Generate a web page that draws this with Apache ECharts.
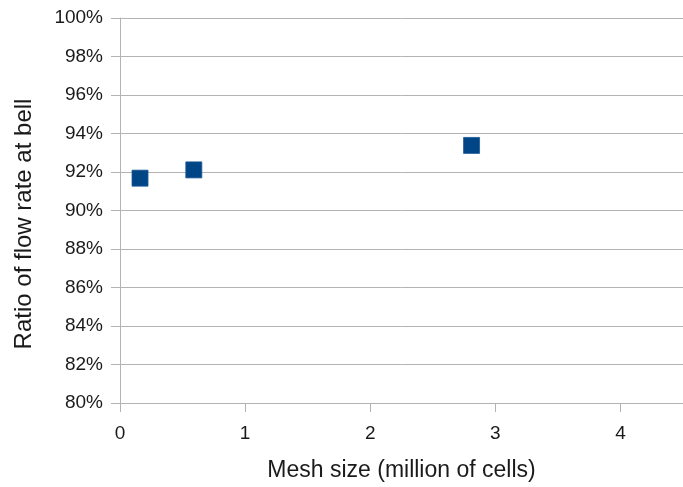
<!DOCTYPE html>
<html>
<head>
<meta charset="utf-8">
<script src="https://cdn.jsdelivr.net/npm/echarts@6/dist/echarts.min.js"></script>
<style>
html,body{margin:0;padding:0;background:#fff;}
#chart{width:683px;height:487px;}
</style>
</head>
<body>
<div id="chart"></div>
<script>
// Data
const meshSize = [0.16, 0.59, 2.81];          // million of cells
const flowRatio = [91.68, 92.11, 93.38];      // percent
const xTitle = 'Mesh size (million of cells)';
const yTitle = 'Ratio of flow rate at bell';

const points = meshSize.map((x, i) => [x, flowRatio[i]]);

const chart = echarts.init(document.getElementById('chart'), null, {renderer: 'canvas'});
const grey = '#b3b3b3';
const font = '"Liberation Sans", Arial, sans-serif';
chart.setOption({
  animation: false,
  backgroundColor: '#fff',
  grid: {left: 120, right: -3, top: 18, bottom: 83, containLabel: false},
  xAxis: {
    type: 'value', min: 0, max: 4.5, interval: 1,
    name: xTitle, nameLocation: 'middle', nameGap: 56,
    nameTextStyle: {fontFamily: font, fontSize: 23, color: '#1a1a1a'},
    axisLine: {show: true, lineStyle: {color: grey, width: 1}},
    axisTick: {show: true, length: 9, lineStyle: {color: grey}},
    splitLine: {show: false},
    axisLabel: {
      fontFamily: font, fontSize: 19, color: '#1a1a1a', margin: 21,
      showMaxLabel: false,
      formatter: v => (v > 4.01 ? '' : String(v))
    }
  },
  yAxis: {
    type: 'value', min: 80, max: 100, interval: 2,
    axisLine: {show: true, lineStyle: {color: grey, width: 1}},
    axisTick: {show: true, length: 9, lineStyle: {color: grey}},
    splitLine: {show: true, lineStyle: {color: grey, width: 1}},
    axisLabel: {fontFamily: font, fontSize: 19, color: '#1a1a1a', margin: 17, formatter: '{value}%'}
  },
  graphic: [{
    type: 'text', x: 24, y: 224, rotation: Math.PI / 2,
    style: {text: yTitle, fontFamily: font, fontSize: 24, fill: '#1a1a1a', align: 'center', verticalAlign: 'middle'}
  }],
  series: [{
    type: 'scatter',
    data: points,
    symbol: 'rect',
    symbolSize: 16,
    itemStyle: {color: '#004586', opacity: 1, borderColor: '#1d5a94', borderWidth: 0.8}
  }]
});
</script>
</body>
</html>
